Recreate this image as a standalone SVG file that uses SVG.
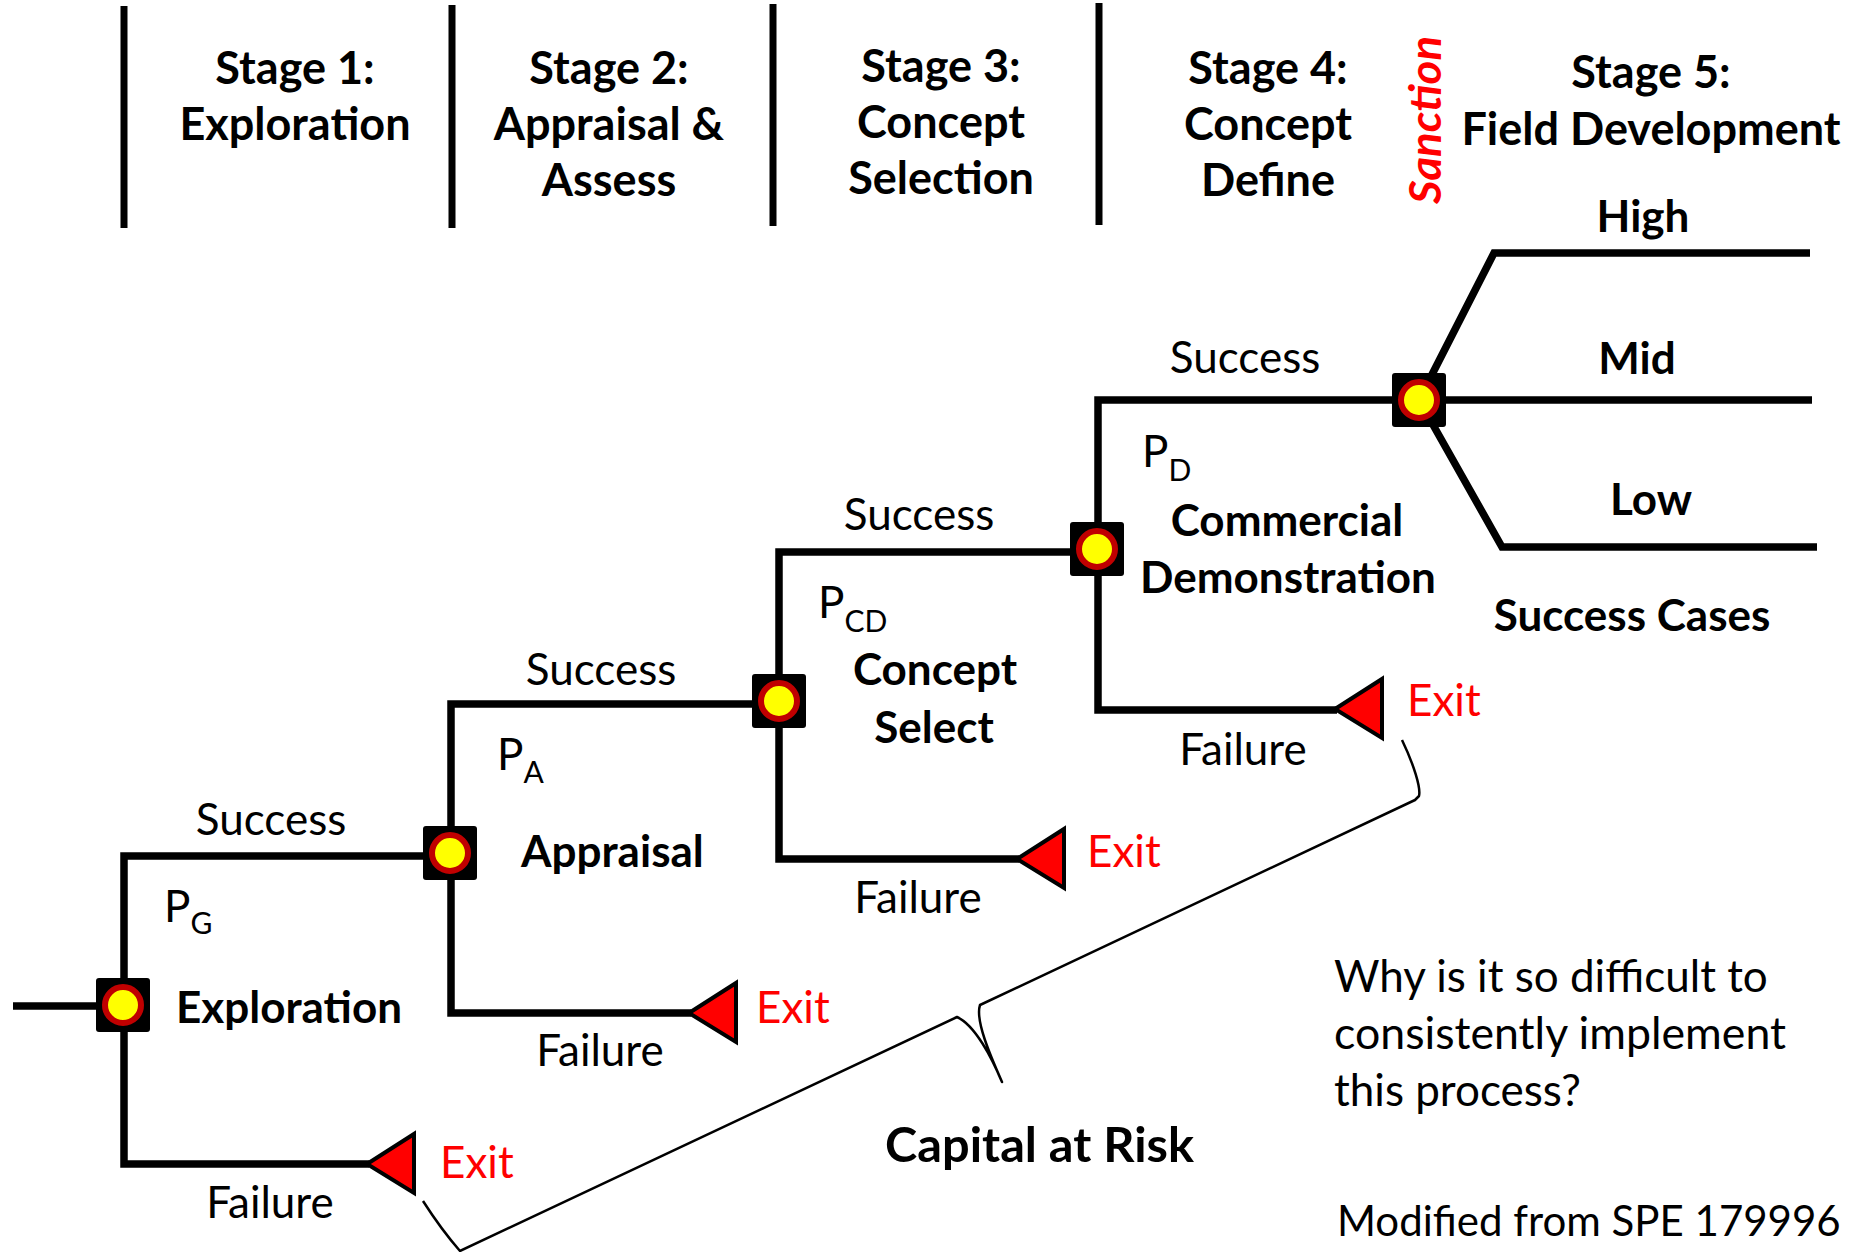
<svg xmlns="http://www.w3.org/2000/svg" width="1855" height="1252" viewBox="0 0 1855 1252">
  <style>
    text { font-family: Lato, "Open Sans", sans-serif; fill: #000; }
    .hdr { font-size: 45px; font-weight: bold; text-anchor: middle; }
    .lbl { font-size: 44px; }
    .mid { text-anchor: middle; }
    .b { font-weight: bold; }
    .sub { font-size: 30px; }
    .exit { fill: #ff0000; font-size: 44px; }
    .sanction { fill: #ff0000; font-size: 44px; font-weight: bold; font-style: italic; text-anchor: middle; }
    .divider { stroke: #000; stroke-width: 7; }
    .branch { fill: none; stroke: #000; stroke-width: 7.5; stroke-linejoin: miter; }
    .flag { fill: #ff0000; stroke: #000; stroke-width: 4; stroke-linejoin: miter; }
    .brace { fill: none; stroke: #000; stroke-width: 2.5; stroke-linejoin: round; }
  </style>
  <defs>
    <!-- chance node: black rounded square with a red-ringed yellow disc -->
    <g id="chance">
      <rect x="-27" y="-27" width="54" height="54" rx="3" fill="#000"/>
      <circle r="18" fill="#ffff00" stroke="#c00000" stroke-width="6"/>
    </g>
    <!-- exit flag: triangle pointing left, tip at the origin -->
    <polygon id="exitFlag" class="flag" points="0,0 47,-30 47,29"/>
  </defs>

  <rect width="1855" height="1252" fill="#fff"/>

  <!-- stage header -->
  <g id="stages">
    <line class="divider" x1="124" y1="6" x2="124" y2="228"/>
    <line class="divider" x1="452" y1="5" x2="452" y2="228"/>
    <line class="divider" x1="773" y1="4" x2="773" y2="226"/>
    <line class="divider" x1="1099" y1="3" x2="1099" y2="225"/>
    <text class="hdr" x="295" y="84">Stage 1:</text>
    <text class="hdr" x="295" y="140">Exploration</text>
    <text class="hdr" x="609" y="84">Stage 2:</text>
    <text class="hdr" x="609" y="140">Appraisal &amp;</text>
    <text class="hdr" x="609" y="196">Assess</text>
    <text class="hdr" x="941" y="82">Stage 3:</text>
    <text class="hdr" x="941" y="138">Concept</text>
    <text class="hdr" x="941" y="194">Selection</text>
    <text class="hdr" x="1268" y="84">Stage 4:</text>
    <text class="hdr" x="1268" y="140">Concept</text>
    <text class="hdr" x="1268" y="196">Define</text>
    <text class="sanction" transform="translate(1441,120) rotate(-90)" textLength="168" lengthAdjust="spacingAndGlyphs">Sanction</text>
    <text class="hdr" x="1651" y="88">Stage 5:</text>
    <text class="hdr" x="1651" y="145">Field Development</text>
  </g>

  <!-- connectors -->
  <g id="connectors">
    <line class="branch" x1="13" y1="1006" x2="100" y2="1006"/>
    <path class="branch" d="M124,1005 L124,856 L450,856"/>
    <path class="branch" d="M124,1005 L124,1164 L369,1164"/>
    <path class="branch" d="M451,853 L451,704 L779,704"/>
    <path class="branch" d="M451,853 L451,1013 L691,1013"/>
    <path class="branch" d="M779,701 L779,552 L1097,552"/>
    <path class="branch" d="M779,701 L779,859 L1019,859"/>
    <path class="branch" d="M1098,549 L1098,400 L1419,400"/>
    <path class="branch" d="M1098,549 L1098,710 L1337,710"/>
    <path class="branch" d="M1419,400 L1494,253 L1810,253"/>
    <path class="branch" d="M1419,400 L1812,400"/>
    <path class="branch" d="M1419,400 L1502,547 L1817,547"/>
  </g>

  <!-- decision nodes -->
  <g id="node-exploration">
    <use href="#chance" x="123" y="1005"/>
    <text class="lbl mid" x="271" y="835">Success</text>
    <text class="lbl" x="164" y="922">P<tspan class="sub" dy="12">G</tspan></text>
    <text class="lbl b" x="176" y="1023">Exploration</text>
    <text class="lbl mid" x="270" y="1218">Failure</text>
  </g>
  <g id="node-appraisal">
    <use href="#chance" x="450" y="853"/>
    <text class="lbl mid" x="601" y="685">Success</text>
    <text class="lbl" x="497" y="770">P<tspan class="sub" dy="13">A</tspan></text>
    <text class="lbl b" x="521" y="867">Appraisal</text>
    <text class="lbl mid" x="600" y="1066">Failure</text>
  </g>
  <g id="node-concept-select">
    <use href="#chance" x="779" y="701"/>
    <text class="lbl mid" x="919" y="530">Success</text>
    <text class="lbl" x="818" y="618">P<tspan class="sub" dy="14">CD</tspan></text>
    <text class="lbl b mid" x="935" y="685">Concept</text>
    <text class="lbl b mid" x="934" y="743">Select</text>
    <text class="lbl mid" x="918" y="913">Failure</text>
  </g>
  <g id="node-commercial-demonstration">
    <use href="#chance" x="1097" y="549"/>
    <text class="lbl mid" x="1245" y="373">Success</text>
    <text class="lbl" x="1142" y="467">P<tspan class="sub" dy="14">D</tspan></text>
    <text class="lbl b mid" x="1287" y="536">Commercial</text>
    <text class="lbl b mid" x="1288" y="593">Demonstration</text>
    <text class="lbl mid" x="1243" y="765">Failure</text>
  </g>
  <g id="node-success-cases">
    <use href="#chance" x="1419" y="400"/>
    <text class="lbl b mid" x="1643" y="232">High</text>
    <text class="lbl b mid" x="1637" y="374">Mid</text>
    <text class="lbl b mid" x="1651" y="515">Low</text>
    <text class="lbl b mid" x="1632" y="631">Success Cases</text>
  </g>

  <!-- exit points -->
  <g id="exit-exploration">
    <use href="#exitFlag" x="367" y="1164"/>
    <text class="exit" x="440" y="1178">Exit</text>
  </g>
  <g id="exit-appraisal">
    <use href="#exitFlag" x="689" y="1013"/>
    <text class="exit" x="756" y="1023">Exit</text>
  </g>
  <g id="exit-concept-select">
    <use href="#exitFlag" x="1017" y="859"/>
    <text class="exit" x="1087" y="867">Exit</text>
  </g>
  <g id="exit-commercial-demonstration">
    <use href="#exitFlag" x="1335" y="709"/>
    <text class="exit" x="1407" y="716">Exit</text>
  </g>

  <!-- capital at risk brace -->
  <g id="capital-at-risk">
    <path class="brace" d="M1402,740 C1414,765 1421,788 1419,796 L1415,800 L980,1005 C975,1020 990,1055 1002,1082 C992,1058 975,1025 957,1017 L460,1251 C446,1235 432,1215 423,1201"/>
    <text class="b" x="885" y="1162" font-size="48" textLength="309" lengthAdjust="spacingAndGlyphs">Capital at Risk</text>
  </g>

  <!-- notes -->
  <g id="notes">
    <text class="lbl" x="1334" y="992">Why is it so difficult to</text>
    <text class="lbl" x="1334" y="1049" textLength="452" lengthAdjust="spacingAndGlyphs">consistently implement</text>
    <text class="lbl" x="1334" y="1106">this process?</text>
    <text x="1337" y="1236" font-size="42">Modified from SPE 179996</text>
  </g>
</svg>
